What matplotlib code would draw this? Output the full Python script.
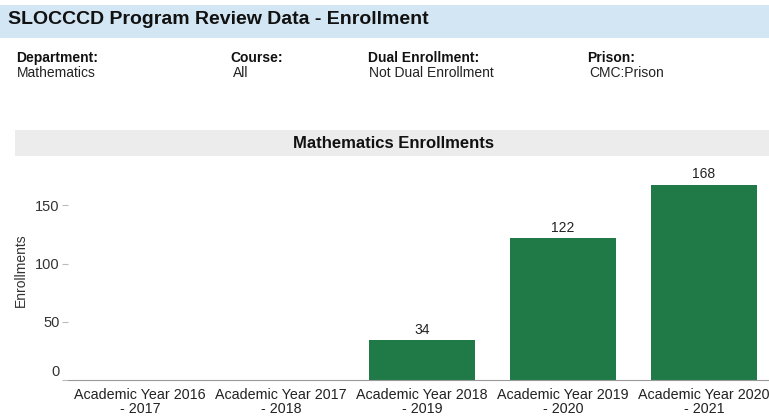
import matplotlib
matplotlib.use("Agg")
import matplotlib.pyplot as plt
from matplotlib.patches import Rectangle
from matplotlib.transforms import ScaledTranslation

plt.rcParams['font.family'] = ['Liberation Sans', 'DejaVu Sans']

categories = ["Academic Year 2016\n- 2017", "Academic Year 2017\n- 2018",
              "Academic Year 2018\n- 2019", "Academic Year 2019\n- 2020",
              "Academic Year 2020\n- 2021"]
enrollments = [0, 0, 34, 122, 168]
bar_labels = ["", "", "34", "122", "168"]
yticks = [0, 50, 100, 150]

filter_names = ["Department:", "Course:", "Dual Enrollment:", "Prison:"]
filter_values = ["Mathematics", "All", "Not Dual Enrollment", "CMC:Prison"]

W, H = 769, 419
fig = plt.figure(figsize=(W / 100, H / 100), dpi=100)
fig.patch.set_facecolor("white")

def fx(x):
    return x / W

def fy(y):
    return 1 - y / H

# title bar
fig.patches.append(Rectangle((0, fy(38)), 1, (38 - 5) / H, transform=fig.transFigure,
                             facecolor="#d3e6f4", edgecolor="none", zorder=0))
fig.text(fx(8), fy(20), "SLOCCCD Program Review Data - Enrollment", fontsize=14,
         fontweight="bold", va="center", ha="left", color="#111111")

# filters
name_x = [16, 230, 368, 587]
val_x = [17, 233, 369, 589]
for nx, vx, n, v in zip(name_x, val_x, filter_names, filter_values):
    fig.text(fx(nx), fy(58), n, fontsize=10, fontweight="bold", va="center", ha="left", color="#111111")
    fig.text(fx(vx), fy(73), v, fontsize=10, va="center", ha="left", color="#222222")

# chart header band
fig.patches.append(Rectangle((fx(15), fy(156)), 1 - fx(15), (156 - 130) / H, transform=fig.transFigure,
                             facecolor="#ececec", edgecolor="none", zorder=0))
fig.text(fx(394), fy(143), "Mathematics Enrollments", fontsize=12, fontweight="bold",
         va="center", ha="center", color="#111111")

# axes
ax_left, ax_right, ax_bottom, ax_top = 68, 769, 379.5, 160
ax = fig.add_axes([fx(ax_left), fy(ax_bottom), fx(ax_right - ax_left), (ax_bottom - ax_top) / H])
ax.set_facecolor("none")
scale = 1.16
ax.set_ylim(0, (ax_bottom - ax_top) / scale)
step = 141
c0 = 140
ax.set_xlim((ax_left - c0) / step, (ax_right - c0) / step)

x = list(range(len(categories)))
bars = ax.bar(x, enrollments, width=0.745, color="#1f7a48", zorder=2)
for xi, val, lab in zip(x, enrollments, bar_labels):
    if lab:
        ax.text(xi, val + 3, lab, ha="center", va="bottom", fontsize=10, color="#222222")

ax.set_yticks(yticks)
ax.set_yticklabels([str(t) for t in yticks], fontsize=10.5, color="#333333")
ax.set_xticks(x)
ax.set_xticklabels(categories, fontsize=10.3, color="#222222", linespacing=1.05)
ax.tick_params(axis="y", length=4, color="#bbbbbb", pad=2)
ax.tick_params(axis="x", length=0, pad=6)
for s in ["top", "right", "left"]:
    ax.spines[s].set_visible(False)
ax.spines["bottom"].set_color("#999999")
ax.spines["bottom"].set_linewidth(0.8)
ax.set_ylabel("Enrollments", fontsize=10, color="#333333", labelpad=5)

# Tableau-style: lift the zero label above the baseline
zero_lab = ax.get_yticklabels()[0]
zero_lab.set_transform(zero_lab.get_transform() + ScaledTranslation(0, 9 / 100, fig.dpi_scale_trans))

fig.savefig("out.png", dpi=100, facecolor="white")
